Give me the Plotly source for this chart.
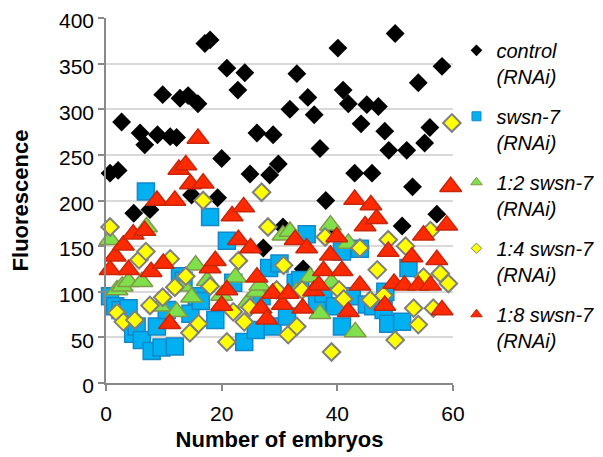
import plotly.graph_objects as go

# ---------------- data ----------------
ctrl_x = [0.7, 2.1, 2.7, 4.8, 5.9, 6.7, 7.6, 8.9, 9.8, 11.1, 12.2, 12.8, 14.2, 14.8, 15.9, 17.1, 18, 19.3, 20, 20.9,
          22.8, 24, 24.9, 26.1, 27.2, 28.3, 28.9, 29.8, 30.6, 31.8, 33, 34.1, 34.9, 36, 37, 38, 38.8, 40.1, 41, 41.9,
          43, 44.1, 45.1, 46, 47.1, 48.2, 48.9, 50, 51.2, 52, 53, 54, 55.1, 56, 57.2, 58.1]
ctrl_y = [230, 233, 286, 186, 274, 261, 190, 272, 316, 270, 269, 312, 315, 206, 306, 372, 376, 203, 246, 345,
          321, 340, 229, 274, 148, 228, 272, 240, 171, 300, 339, 125, 313, 294, 257, 200, 171, 367, 321, 306,
          230, 284, 305, 230, 303, 276, 255, 383, 172, 255, 215, 329, 263, 280, 185, 347]

swsn_x = [0.7, 1.6, 2.5, 3.9, 4.7, 5.3, 6.2, 6.9, 7.9, 8.8, 9.6, 10.5, 11.9, 12.8, 13.4, 14.6, 15.7, 16.4, 18, 18.9,
          20.9, 22, 23.9, 25.9, 26.9, 28.2, 28.8, 30, 31.3, 32.8, 33.6, 34.7, 36.5, 37.6, 39.6, 40.8, 40.8, 42.5,
          43.9, 45.1, 46.2, 48, 48.3, 48.8, 51.2, 52.3]
swsn_y = [95, 84, 80, 82, 54, 62, 47, 210, 35, 62, 39, 80, 40, 117, 112, 76, 95, 90, 182, 69,
          156, 110, 45, 58, 95, 126, 62, 131, 73, 110, 113, 163, 88, 98, 84, 62, 144, 95,
          147, 86, 84, 80, 100, 65, 67, 126]

d2_x = [0.7, 1.9, 2.8, 3.9, 6.2, 7, 9.3, 12.2, 13.4, 14.8, 15.5, 17.5, 20, 22.4, 24.5, 26.1, 26.6, 30.6, 31.8,
        33, 35.3, 37, 38.8, 39, 41.9, 43.1]
d2_y = [157, 102, 106, 111, 111, 171, 84, 78, 106, 94, 129, 112, 96, 116, 88, 100, 107, 162, 166,
        100, 116, 76, 173, 110, 153, 56]

d4_x = [0.7, 1.9, 3, 5, 5.7, 6.9, 7.6, 9.8, 11.1, 11.9, 13.8, 14.5, 16, 16.8, 18, 20.9, 22, 22.9, 23.9, 24.9,
        26.9, 28, 29.5, 30.7, 31.5, 33, 33.9, 37.9, 39, 40.3, 41.1, 43.9, 45.7, 46.9, 48, 48.8, 50, 51.8,
        53.2, 54, 54.9, 56.1, 56.6, 57.8, 59.2, 59.8]
d4_y = [171, 77, 67, 69, 135, 144, 85, 94, 136, 105, 117, 55, 65, 200, 106, 45, 78, 134, 67, 83,
        209, 171, 102, 129, 53, 62, 102, 160, 34, 102, 92, 148, 91, 124, 96, 157, 47, 150,
        82, 64, 116, 167, 82, 120, 109, 285]

d8_x = [0.7, 1.6, 3, 3.9, 4.7, 6.7, 7.8, 8.8, 9.9, 11, 11.9, 12.6, 13.8, 14.6, 15.9, 16.8, 18, 18.9, 20, 20.9,
        21.8, 23.8, 22.9, 25, 26.1, 26.8, 27.8, 28.8, 30.5, 31.5, 32.7, 34, 34.7, 35.9, 36.8, 37.6, 38.8, 39.9,
        40.8, 41.9, 43, 43.9, 44.8, 45.8, 46.8, 48.2, 48.8, 49.8, 51.6, 52.9, 54, 54.9, 56.1, 57.2, 58.1, 58.9, 59.6]
d8_y = [124, 139, 151, 124, 163, 167, 122, 200, 131, 65, 200, 234, 239, 218, 268, 219, 126, 134, 85, 102,
        183, 193, 157, 148, 116, 82, 70, 98, 86, 98, 157, 82, 148, 101, 107, 123, 140, 160,
        123, 78, 201, 107, 172, 195, 180, 85, 144, 109, 107, 138, 107, 162, 107, 135, 80, 173, 215]

names = ["<i>control<br>(RNAi)</i>", "<i>swsn-7<br>(RNAi)</i>", "<i>1:2 swsn-7<br>(RNAi)</i>",
         "<i>1:4 swsn-7<br>(RNAi)</i>", "<i>1:8 swsn-7<br>(RNAi)</i>"]

FONT = "Liberation Sans, Arial, Helvetica, sans-serif"

styles = [
    dict(symbol="diamond", size=14.5, color="#000000", line=dict(color="#000000", width=0)),
    dict(symbol="square", size=17, color="#00B0F0", line=dict(color="#1587C8", width=1.5)),
    dict(symbol="triangle-up", size=19, color="#80E04C", line=dict(color="#7F9A48", width=1.5)),
    dict(symbol="diamond", size=13.5, color="#FFFF00", line=dict(color="#7F7F7F", width=2)),
    dict(symbol="triangle-up", size=19, color="#FF2A00", line=dict(color="#C8260A", width=1.5)),
]
legend_sizes = [9, 9, 10, 8, 10]

series = [(ctrl_x, ctrl_y), (swsn_x, swsn_y), (d2_x, d2_y), (d4_x, d4_y), (d8_x, d8_y)]

fig = go.Figure()
for (xs, ys), st in zip(series, styles):
    fig.add_trace(go.Scatter(x=xs, y=ys, mode="markers", showlegend=False, cliponaxis=False,
                             marker=st, hoverinfo="skip"))

for i, (nm, st) in enumerate(zip(names, styles)):
    m = dict(st)
    m["size"] = legend_sizes[i]
    m["line"] = dict(color=st["line"]["color"], width=min(st["line"]["width"], 1))
    fig.add_trace(go.Scatter(x=[None], y=[None], mode="markers", name=nm, legendgroup="g%d" % i,
                             marker=m, showlegend=True))

axis_common = dict(showline=True, linecolor="#898989", linewidth=1.5, ticks="outside", ticklen=6,
                   tickcolor="#898989", tickwidth=1.5, zeroline=False, automargin=False,
                   ticklabeloverflow="allow",
                   tickfont=dict(family=FONT, size=21, color="#000000"))

# the page body adds an 8px offset, so the figure is 8px smaller and margins are shifted
fig.update_layout(
    width=595, height=449,
    margin=dict(l=98, r=150, t=10, b=74, autoexpand=False),
    paper_bgcolor="white", plot_bgcolor="white",
    font=dict(family=FONT, color="#000000"),
    xaxis=dict(range=[0, 60], tickvals=[0, 20, 40, 60], showgrid=False, ticklabelstandoff=5,
               title=dict(text="<b>Number of embryos</b>", font=dict(family=FONT, size=22), standoff=8),
               **axis_common),
    yaxis=dict(range=[0, 400], dtick=50, showgrid=True, gridcolor="#D9D9D9", gridwidth=1.5,
               ticklabelshift=3,
               title=dict(text="<b>Fluorescence</b>", font=dict(family=FONT, size=22), standoff=24),
               **axis_common),
    legend=dict(x=1.01, y=0.965, xanchor="left", yanchor="top", font=dict(family=FONT, size=20),
                tracegroupgap=11, valign="top", itemwidth=30, bgcolor="rgba(0,0,0,0)"),
)

fig.write_html("out.html")
